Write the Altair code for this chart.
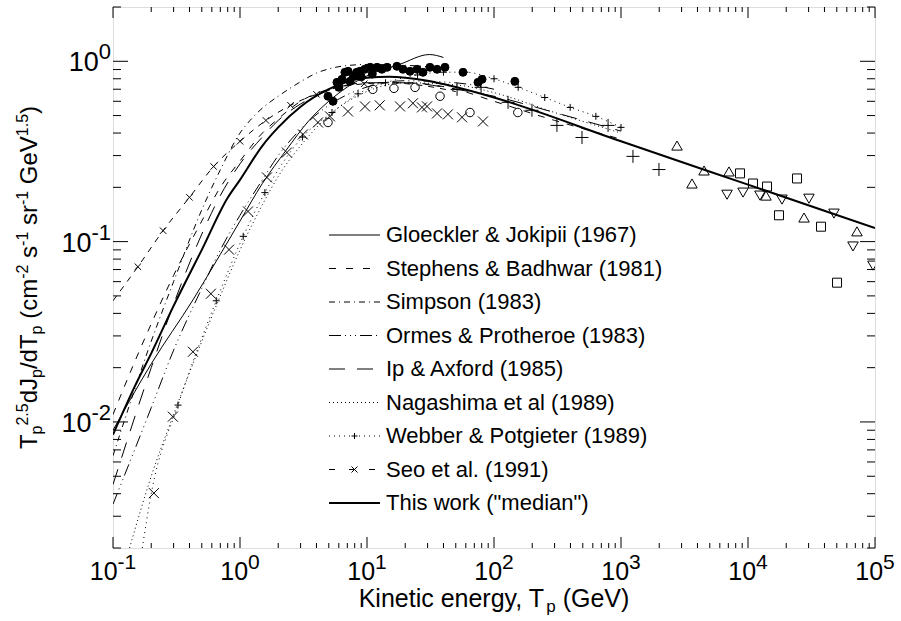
import altair as alt
import pandas as pd

# ---------------------------------------------------------------- layout
W, H = 762, 541
FONT = "Liberation Sans"

# ---------------------------------------------------------------- model spectra  (T in GeV, T^2.5 dJ/dT)
THIS_T = [0.1, 0.15, 0.2, 0.3, 0.5, 0.8, 1.0, 1.5, 2.0, 3.0, 5.0, 7.0, 10, 15, 20, 30, 50, 100, 1e3, 1e4, 1e5]
THIS_F = [0.0085, 0.016, 0.024, 0.044, 0.09, 0.175, 0.22, 0.34, 0.43, 0.56, 0.70, 0.77, 0.81, 0.82, 0.81, 0.78, 0.72, 0.63, 0.36, 0.207, 0.119]

GJ_T = [0.1, 0.2, 0.43, 0.7, 1.0, 1.5, 2.3, 3.5, 5, 7, 10, 18, 31, 40]
GJ_F = [0.009, 0.021, 0.048, 0.085, 0.13, 0.21, 0.32, 0.47, 0.6, 0.72, 0.83, 0.96, 1.09, 1.05]

SB_T = [0.1, 0.15, 0.2, 0.3, 0.5, 0.7, 1, 1.5, 2, 3, 5, 10, 20, 50, 100, 300, 1000]
SB_F = [0.011, 0.022, 0.035, 0.065, 0.13, 0.2, 0.28, 0.4, 0.48, 0.6, 0.7, 0.76, 0.76, 0.7, 0.6, 0.47, 0.37]

SIM_T = [0.1, 0.2, 0.3, 0.5, 0.7, 1, 1.2, 1.5, 2, 3, 4, 5.4, 7.3, 10, 20, 40]
SIM_F = [0.0065, 0.028, 0.06, 0.15, 0.25, 0.40, 0.47, 0.55, 0.64, 0.77, 0.86, 0.92, 0.95, 0.96, 0.95, 0.92]

OP_T = [0.1, 0.2, 0.3, 0.5, 0.7, 1, 1.5, 2, 3, 5, 10, 20, 50, 100]
OP_F = [0.0035, 0.012, 0.025, 0.055, 0.09, 0.14, 0.22, 0.3, 0.42, 0.57, 0.72, 0.78, 0.76, 0.7]

IA_T = [0.1, 0.2, 0.3, 0.5, 0.7, 1, 1.5, 2, 3, 5, 10, 20, 50, 100, 300, 1000]
IA_F = [0.0045, 0.02, 0.045, 0.11, 0.18, 0.27, 0.38, 0.47, 0.58, 0.69, 0.76, 0.76, 0.70, 0.64, 0.52, 0.41]

NAG_T = [0.135, 0.2, 0.3, 0.5, 0.7, 1, 1.5, 2, 3, 5, 10, 20, 50, 100, 300, 1000]
NAG_F = [0.002, 0.005, 0.011, 0.028, 0.05, 0.09, 0.16, 0.23, 0.34, 0.5, 0.68, 0.76, 0.74, 0.67, 0.52, 0.4]

WP_T = [0.17, 0.2, 0.325, 0.65, 1.06, 1.57, 3.1, 5.3, 8.5, 14, 25, 40, 59, 100, 155, 251, 398, 634, 1000]
WP_F = [0.002, 0.004, 0.0124, 0.047, 0.107, 0.187, 0.38, 0.52, 0.66, 0.76, 0.84, 0.87, 0.87, 0.80, 0.717, 0.63, 0.555, 0.495, 0.43]

SEO_T = [0.1, 0.157, 0.248, 0.40, 0.62, 1.0, 1.6, 2.5, 4.0, 6.1, 9.5, 15, 25, 50]
SEO_F = [0.047, 0.0726, 0.115, 0.176, 0.261, 0.36, 0.47, 0.57, 0.656, 0.72, 0.75, 0.76, 0.74, 0.68]

# ---------------------------------------------------------------- measurements
FILLED_T = [4.93, 5.4, 5.8, 6.0, 6.35, 6.7, 7.1, 7.35, 7.8, 8.3, 8.8, 9.0, 9.6, 10.6, 11.0, 12.0, 13.1, 14.4,
            17.2, 19.2, 21.8, 24.8, 27.6, 31.3, 35.6, 41.1, 57, 74.8, 80.5, 146]
FILLED_F = [0.64, 0.60, 0.764, 0.717, 0.794, 0.869, 0.88, 0.774, 0.83, 0.869, 0.88, 0.82, 0.903, 0.926, 0.85, 0.926,
            0.903, 0.926, 0.938, 0.903, 0.88, 0.903, 0.869, 0.926, 0.903, 0.926, 0.869, 0.764, 0.794, 0.774]

OPEN_T = [4.93, 11.1, 16.3, 23.9, 37.6, 64.7, 154]
OPEN_F = [0.458, 0.699, 0.708, 0.717, 0.64, 0.52, 0.52]

CROSS_T = [0.21, 0.296, 0.426, 0.59, 0.82, 1.156, 1.63, 2.34, 3.13, 4.11, 5.11, 7.08, 9.64, 12.6, 18.2, 23.0,
           27.1, 29.7, 35.6, 43.4, 56.0, 81.9]
CROSS_F = [0.00403, 0.0107, 0.0245, 0.0514, 0.0903, 0.147, 0.227, 0.312, 0.393, 0.458, 0.495, 0.527, 0.562, 0.57,
           0.562, 0.585, 0.555, 0.562, 0.514, 0.508, 0.489, 0.464]

PLUS_T = [51.2, 79.1, 129, 199, 313, 493, 791, 1242, 1990]
PLUS_F = [0.699, 0.717, 0.592, 0.535, 0.441, 0.378, 0.441, 0.297, 0.251]

TRI_UP_T = [2761, 3622, 4505, 7083, 13860, 27620, 72130]
TRI_UP_F = [0.341, 0.21, 0.248, 0.245, 0.18, 0.136, 0.114]

TRI_DN_T = [6840, 9140, 12420, 18520, 30200, 47530, 67100, 96400]
TRI_DN_F = [0.182, 0.187, 0.18, 0.171, 0.173, 0.143, 0.094, 0.0736]

SQUARE_T = [8650, 10940, 14120, 17540, 24320, 37580, 50240]
SQUARE_F = [0.239, 0.21, 0.202, 0.14, 0.224, 0.121, 0.0592]

# ---------------------------------------------------------------- legend entries
LEGEND = [
    ("Gloeckler & Jokipii (1967)", None, 1.0, None),
    ("Stephens & Badhwar (1981)", [7, 10], 1.0, None),
    ("Simpson (1983)", [6, 4, 1, 4], 1.0, None),
    ("Ormes & Protheroe (1983)", [12, 4, 1, 4, 1, 4, 1, 4], 1.0, None),
    ("Ip & Axford (1985)", [16, 12], 1.0, None),
    ("Nagashima et al (1989)", [1, 3], 1.0, None),
    ("Webber & Potgieter (1989)", [1, 4], 1.0, "plus"),
    ("Seo et al. (1991)", [6, 14], 1.0, "cross"),
    ('This work ("median")', None, 2.0, None),
]

PLUS_PATH = "M-1,0H1M0,-1V1"
CROSS_PATH = "M-1,-1L1,1M-1,1L1,-1"

xscale = alt.Scale(type="log", domain=[0.1, 1e5], nice=False)
yscale = alt.Scale(type="log", domain=[0.002, 2.0], nice=False)
ONE = pd.DataFrame({"k": [0]})


def xy():
    return dict(x=alt.X("T:Q", scale=xscale, axis=None), y=alt.Y("F:Q", scale=yscale, axis=None))


def curve(t, f, dash=None, width=1.0):
    kw = dict(stroke="black", strokeWidth=width, clip=True, interpolate="monotone")
    if dash:
        kw["strokeDash"] = dash
    return alt.Chart(pd.DataFrame({"T": t, "F": f})).mark_line(**kw).encode(**xy())


def points(t, f, shape, size, filled=False):
    kw = dict(shape=shape, size=size, stroke="black", strokeWidth=1, clip=True, opacity=1, filled=filled)
    if filled:
        kw["fill"] = "black"
    return alt.Chart(pd.DataFrame({"T": t, "F": f})).mark_point(**kw).encode(**xy())


def text(s, x, y, size, align="left", baseline="alphabetic", angle=0):
    kw = dict(text=s, fontSize=size, font=FONT, align=align, baseline=baseline, color="black")
    if angle:
        kw["angle"] = angle
    return alt.Chart(ONE).mark_text(**kw).encode(x=alt.value(x), y=alt.value(y))


layers = [
    curve(GJ_T, GJ_F),
    curve(SB_T, SB_F, [7, 8]),
    curve(SIM_T, SIM_F, [6, 4, 1, 4]),
    curve(OP_T, OP_F, [12, 4, 1, 4, 1, 4, 1, 4]),
    curve(IA_T, IA_F, [16, 12]),
    curve(NAG_T, NAG_F, [1, 3]),
    curve(WP_T, WP_F, [1, 4]),
    curve(SEO_T, SEO_F, [6, 6]),
    curve(THIS_T, THIS_F, None, 2.0),
    points(WP_T[2:], WP_F[2:], PLUS_PATH, 49),
    points(SEO_T[1:11], SEO_F[1:11], CROSS_PATH, 42),
    points(FILLED_T, FILLED_F, "circle", 64, filled=True),
    points(OPEN_T, OPEN_F, "circle", 72),
    points(CROSS_T, CROSS_F, CROSS_PATH, 100),
    points(PLUS_T, PLUS_F, PLUS_PATH, 169),
    points(TRI_UP_T, TRI_UP_F, "triangle-up", 110),
    points(TRI_DN_T, TRI_DN_F, "triangle-down", 110),
    points(SQUARE_T, SQUARE_F, "square", 81),
]

# ---------------------------------------------------------------- inward ticks on all four sides
x_major = [10.0 ** k for k in range(-1, 6)]
x_minor = [m * 10.0 ** k for k in range(-1, 5) for m in range(2, 10)]
y_major = [0.01, 0.1, 1.0]
y_minor = [m * 10.0 ** k for k in range(-3, 1) for m in range(2, 10) if 0.002 <= m * 10.0 ** k <= 2.0]


def xticks(vals, length):
    d = pd.DataFrame({"T": vals})
    bot = alt.Chart(d).mark_rule(color="black", strokeWidth=1).encode(
        x=alt.X("T:Q", scale=xscale, axis=None), y=alt.value(H), y2=alt.value(H - length))
    top = alt.Chart(d).mark_rule(color="black", strokeWidth=1).encode(
        x=alt.X("T:Q", scale=xscale, axis=None), y=alt.value(0), y2=alt.value(length))
    return [bot, top]


def yticks(vals, length):
    d = pd.DataFrame({"F": vals})
    left = alt.Chart(d).mark_rule(color="black", strokeWidth=1).encode(
        y=alt.Y("F:Q", scale=yscale, axis=None), x=alt.value(0), x2=alt.value(length))
    right = alt.Chart(d).mark_rule(color="black", strokeWidth=1).encode(
        y=alt.Y("F:Q", scale=yscale, axis=None), x=alt.value(W - length), x2=alt.value(W))
    return [left, right]


layers += xticks(x_major, 11) + xticks(x_minor, 5) + yticks(y_major, 15) + yticks(y_minor, 8)

# ---------------------------------------------------------------- power-of-ten tick labels
ADV = {"-": 0.333, ".": 0.278, " ": 0.278, "(": 0.333, ")": 0.333, "/": 0.278, "T": 0.611, "p": 0.556,
       "d": 0.556, "J": 0.5, "c": 0.5, "m": 0.833, "s": 0.5, "r": 0.333, "G": 0.778, "e": 0.556, "V": 0.667,
       "K": 0.667, "i": 0.222, "n": 0.556, "t": 0.278, "g": 0.556, "y": 0.5, ",": 0.278}


def tw(s, size):
    return sum(ADV.get(ch, 0.556) for ch in s) * size


BASE, EXP = 25, 21
for k in range(-1, 6):
    e = str(k)
    shift = (tw("10", BASE) - tw(e, EXP)) / 2
    d = pd.DataFrame({"T": [10.0 ** k]})
    enc = dict(x=alt.X("T:Q", scale=xscale, axis=None))
    layers.append(alt.Chart(d).mark_text(text="10", fontSize=BASE, font=FONT, align="right", dx=shift,
                                         baseline="alphabetic", color="black").encode(y=alt.value(H + 32), **enc))
    layers.append(alt.Chart(d).mark_text(text=e, fontSize=EXP, font=FONT, align="left", dx=shift,
                                         baseline="alphabetic", color="black").encode(y=alt.value(H + 21), **enc))

YBASE, YEXP = 27, 22
for k in range(-2, 1):
    e = str(k)
    d = pd.DataFrame({"F": [10.0 ** k]})
    enc = dict(y=alt.Y("F:Q", scale=yscale, axis=None))
    layers.append(alt.Chart(d).mark_text(text=e, fontSize=YEXP, font=FONT, align="right", dy=-2,
                                         baseline="alphabetic", color="black").encode(x=alt.value(-2), **enc))
    layers.append(alt.Chart(d).mark_text(text="10", fontSize=YBASE, font=FONT, align="right", dy=10,
                                         baseline="alphabetic", color="black").encode(
        x=alt.value(-2 - tw(e, YEXP)), **enc))


# ---------------------------------------------------------------- axis titles (pieces with sub/superscripts)
def split_lead(s):
    body = s.lstrip(" ")
    return len(s) - len(body), body


TB, TS = 25, 17
x_pieces = [("Kinetic energy, T", TB, 0), ("p", TS, 5), (" (GeV)", TB, 0)]
total = sum(tw(s, z) for s, z, _ in x_pieces)
cx = W / 2 - total / 2
for s, z, off in x_pieces:
    n, body = split_lead(s)
    cx += n * tw(" ", z)
    layers.append(text(body, cx, H + 59 + off, z))
    cx += tw(body, z)

YB, YS = 24, 16
y_pieces = [("T", "n"), ("p", "sub"), ("2.5", "sup"), ("dJ", "n"), ("p", "sub"), ("/dT", "n"), ("p", "sub"),
            (" (cm", "n"), ("-2", "sup"), (" s", "n"), ("-1", "sup"), (" sr", "n"), ("-1", "sup"),
            (" GeV", "n"), ("1.5", "sup"), (")", "n")]
sizes = {"n": YB, "sub": YS, "sup": YS}
offs = {"n": 0, "sub": 5, "sup": -9}
total = sum(tw(s, sizes[kd]) for s, kd in y_pieces)
cy = H / 2 + total / 2
for s, kd in y_pieces:
    n, body = split_lead(s)
    cy -= n * tw(" ", sizes[kd])
    layers.append(text(body, -76 + offs[kd], cy, sizes[kd], angle=270))
    cy -= tw(body, sizes[kd])

# ---------------------------------------------------------------- legend
LX0, LX1, LTX = 216, 267, 273
for i, (label, dash, width, mark) in enumerate(LEGEND):
    ry = 228 + 33.5 * i
    kw = dict(color="black", strokeWidth=width)
    if dash:
        kw["strokeDash"] = dash
    layers.append(alt.Chart(ONE).mark_rule(**kw).encode(
        x=alt.value(LX0), x2=alt.value(LX1), y=alt.value(ry)))
    if mark:
        path = PLUS_PATH if mark == "plus" else CROSS_PATH
        layers.append(alt.Chart(ONE).mark_point(shape=path, size=36, stroke="black", strokeWidth=1,
                                                opacity=1, filled=False).encode(
            x=alt.value((LX0 + LX1) / 2), y=alt.value(ry)))
    layers.append(text(label, LTX, ry, 22, baseline="middle"))

chart = alt.layer(*layers).properties(
    width=W, height=H,
    autosize=alt.AutoSizeParams(type="none"),
    padding={"left": 113, "top": 7, "right": 26, "bottom": 73},
).configure_view(stroke="black", strokeWidth=1).configure(background="white")

chart.save("out.html", embed_options={"renderer": "svg", "actions": False})
